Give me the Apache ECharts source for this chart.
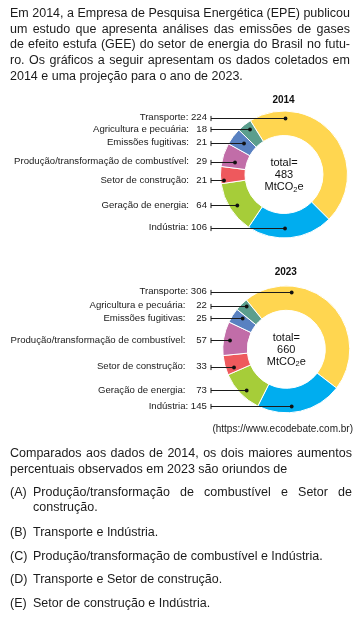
<!DOCTYPE html>
<html><head><meta charset="utf-8">
<script src="https://cdn.jsdelivr.net/npm/echarts@6/dist/echarts.min.js"></script>
<style>
html,body{margin:0;padding:0;background:#fff;}
body{width:358px;height:619px;position:relative;overflow:hidden;font-family:"Liberation Sans",Arial,sans-serif;color:#1b1b1b;}
#chart{position:absolute;left:0;top:0;width:358px;height:619px;}
.ln{position:absolute;height:16px;line-height:16px;font-size:12.5px;white-space:nowrap;}
.jl{display:flex;justify-content:space-between;}
.jl span{white-space:pre;}
.src{position:absolute;right:5px;top:422px;font-size:10px;line-height:14px;white-space:nowrap;}
</style></head>
<body>
<div id="chart"></div>
<div id="text"></div>
<div class="src">(https://www.ecodebate.com.br)</div>
<script>
// ---- data ----
const categories = ['Transporte', 'Indústria', 'Geração de energia', 'Setor de construção',
  'Produção/transformação de combustível', 'Emissões fugitivas', 'Agricultura e pecuária'];
const values2014 = [224, 106, 64, 21, 29, 21, 18];
const values2023 = [306, 145, 73, 33, 57, 25, 22];
const total2014 = 483;
const total2023 = 660;
const years = ['2014', '2023'];
const colors = ['#FFD650', '#00ADEF', '#A6CD39', '#EE595D', '#C16DA8', '#5981C1', '#5B9E8D'];

// ---- text layout ----
const textLines = [
  {x: 10, y: 12.6, w: 340, j: true, t: 'Em 2014, a Empresa de Pesquisa Energética (EPE) publicou'},
  {x: 10, y: 28.5, w: 340, j: true, t: 'um estudo que apresenta análises das emissões de gases'},
  {x: 10, y: 44.4, w: 340, j: true, t: 'de efeito estufa (GEE) do setor de energia do Brasil no futu-'},
  {x: 10, y: 60.2, w: 340, j: true, t: 'ro. Os gráficos a seguir apresentam os dados coletados em'},
  {x: 10, y: 76.0, w: 340, j: false, t: '2014 e uma projeção para o ano de 2023.'},
  {x: 10, y: 453.3, w: 342, j: true, t: 'Comparados aos dados de 2014, os dois maiores aumentos'},
  {x: 10, y: 469.3, w: 342, j: false, t: 'percentuais observados em 2023 são oriundos de'},
  {x: 10, y: 491.7, w: 20, j: false, t: '(A)'},
  {x: 33, y: 491.7, w: 319, j: true, t: 'Produção/transformação de combustível e Setor de'},
  {x: 33, y: 507.3, w: 319, j: false, t: 'construção.'},
  {x: 10, y: 531.7, w: 20, j: false, t: '(B)'},
  {x: 33, y: 531.7, w: 319, j: false, t: 'Transporte e Indústria.'},
  {x: 10, y: 555.7, w: 20, j: false, t: '(C)'},
  {x: 33, y: 555.7, w: 319, j: false, t: 'Produção/transformação de combustível e Indústria.'},
  {x: 10, y: 578.8, w: 20, j: false, t: '(D)'},
  {x: 33, y: 578.8, w: 319, j: false, t: 'Transporte e Setor de construção.'},
  {x: 10, y: 602.7, w: 20, j: false, t: '(E)'},
  {x: 33, y: 602.7, w: 319, j: false, t: 'Setor de construção e Indústria.'}
];
const holder = document.getElementById('text');
textLines.forEach(function (L) {
  const d = document.createElement('div');
  d.className = 'ln' + (L.j ? ' jl' : '');
  d.style.left = L.x + 'px';
  d.style.top = (L.y - 8) + 'px';
  d.style.width = L.w + 'px';
  if (L.j) {
    const words = L.t.split(' ');
    words.forEach(function (w, i) {
      const s = document.createElement('span');
      s.textContent = w + (i < words.length - 1 ? ' ' : '');
      d.appendChild(s);
    });
  } else {
    d.textContent = L.t;
  }
  holder.appendChild(d);
});

// ---- chart layout ----
const FONT = '"Liberation Sans", Arial, sans-serif';
const charts = [
  {values: values2014, total: total2014, year: years[0], cx: 284, cy: 174.5, start: 122,
   nameRight: 189, valRight: 207, lineX: 211, titleY: 100,
   // [dy of leader line, dx of dot] relative to centre, in category order
   leader: [[-57, 1.5], [53, 1], [30.8, -46.7], [5.5, -60], [-12.8, -49], [-31.8, -40], [-45.2, -34]]},
  {values: values2023, total: total2023, year: years[1], cx: 286.3, cy: 349.3, start: 129,
   nameRight: 185.5, valRight: 206.8, lineX: 211, titleY: 272.3,
   leader: [[-57.6, 5.4], [57, 5.4], [40.7, -39.6], [17.4, -52.3], [-9.3, -56.3], [-31, -43.6], [-43.5, -39.6]]}
];
const inlineLabel = {'Transporte': true, 'Indústria': true};

const series = [];
const graphic = [];
charts.forEach(function (C) {
  const vw = C.valRight - C.nameRight;
  series.push({
    type: 'pie',
    center: [C.cx, C.cy],
    radius: [39, 63.5],
    startAngle: C.start,
    clockwise: true,
    avoidLabelOverlap: false,
    minShowLabelAngle: 0,
    silent: true,
    itemStyle: {borderColor: '#ffffff', borderWidth: 1},
    data: categories.map(function (n, i) {
      return {name: n, value: C.values[i], itemStyle: {color: colors[i]}};
    }),
    label: {
      show: true,
      position: 'outside',
      fontFamily: FONT,
      fontSize: 9.6,
      color: '#1a1a1a',
      formatter: function (p) {
        if (inlineLabel[p.name]) return '{t|' + p.name + ': ' + p.value + '}';
        return '{n|' + p.name + ':}{v|' + p.value + '}';
      },
      rich: {
        t: {fontFamily: FONT, fontSize: 9.6, color: '#1a1a1a'},
        n: {fontFamily: FONT, fontSize: 9.6, color: '#1a1a1a'},
        v: {fontFamily: FONT, fontSize: 9.6, color: '#1a1a1a', width: vw, align: 'right'}
      }
    },
    labelLine: {show: false},
    labelLayout: function (p) {
      const L = C.leader[p.dataIndex];
      return {x: C.valRight, y: C.cy + L[0], align: 'right', verticalAlign: 'middle'};
    }
  });
  // title
  graphic.push({type: 'text', x: C.cx - 0.5, y: C.titleY, z: 10,
    style: {text: C.year, font: 'bold 10px ' + FONT, fill: '#111', align: 'center', verticalAlign: 'middle'}});
  // centre text
  graphic.push({type: 'text', x: C.cx, y: C.cy + 0.5, z: 10,
    style: {text: 'total=\n' + C.total + '\nMtCO{s|2}e', fontFamily: FONT, fontSize: 11, lineHeight: 12.3,
      fill: '#111', align: 'center', verticalAlign: 'middle',
      rich: {s: {fontFamily: FONT, fontSize: 7.5, lineHeight: 8, verticalAlign: 'bottom', fill: '#111'}}}});
  // leader lines, end marks and dots
  C.leader.forEach(function (L) {
    const y = Math.round(C.cy + L[0]) + 0.5;
    const dx = C.cx + L[1];
    graphic.push({type: 'line', z: 10, shape: {x1: C.lineX, y1: y, x2: dx, y2: y},
      style: {stroke: '#1a1a1a', lineWidth: 1}});
    graphic.push({type: 'line', z: 10, shape: {x1: C.lineX, y1: y - 2.6, x2: C.lineX, y2: y + 2.6},
      style: {stroke: '#1a1a1a', lineWidth: 1}});
    graphic.push({type: 'circle', z: 10, shape: {cx: dx, cy: y, r: 1.9},
      style: {fill: '#111'}});
  });
});

const chart = echarts.init(document.getElementById('chart'), null, {renderer: 'canvas'});
chart.setOption({
  animation: false,
  backgroundColor: 'transparent',
  textStyle: {fontFamily: FONT},
  series: series,
  graphic: graphic
});
</script>
</body></html>
